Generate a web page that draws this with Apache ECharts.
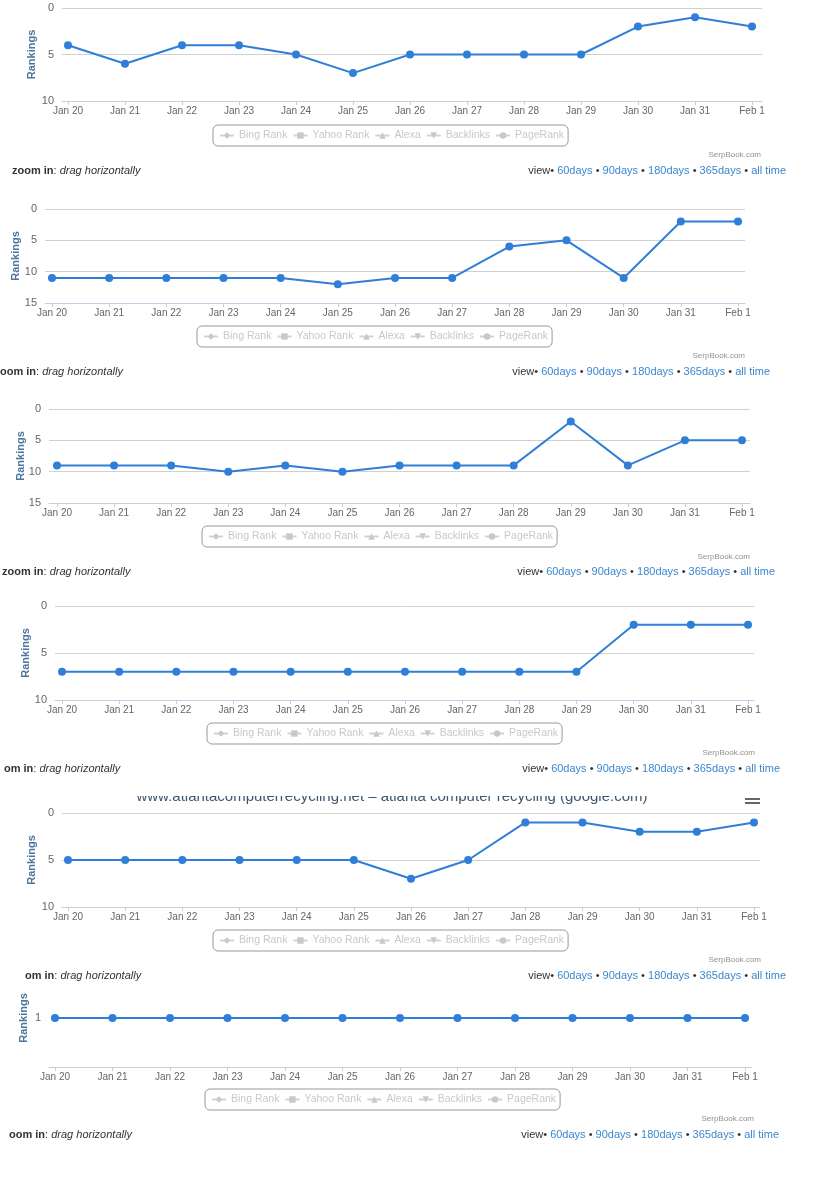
<!DOCTYPE html>
<html>
<head>
<meta charset="utf-8">
<script src="https://cdn.jsdelivr.net/npm/echarts@6/dist/echarts.min.js"></script>
<style>
html,body{margin:0;padding:0;background:#fff;}
#wrap{position:relative;width:816px;height:1200px;overflow:hidden;font-family:"Liberation Sans",Arial,sans-serif;}
#chart{position:absolute;left:0;top:0;width:816px;height:1200px;}
.t{position:absolute;white-space:nowrap;font-size:11px;line-height:14px;color:#333;}
.t b{font-weight:bold;}
.t i{font-style:italic;}
.t a{color:#3b87cf;text-decoration:none;}
.sb{position:absolute;white-space:nowrap;font-size:8px;line-height:10px;color:#909090;}
#titleclip{position:absolute;left:0;top:796px;width:816px;height:10px;overflow:hidden;}
#titleclip div{position:absolute;left:0;width:784px;top:-10px;text-align:center;font-size:15px;line-height:20px;color:#3E576F;white-space:nowrap;}
.bar{position:absolute;left:745px;width:15px;height:2px;background:#666;}
</style>
</head>
<body>
<div id="wrap">
<div id="chart"></div>
<div id="titleclip"><div>www.atlantacomputerrecycling.net – atlanta computer recycling (google.com)</div></div>
<div class="bar" style="top:798px"></div>
<div class="bar" style="top:802px"></div>
<div id="texts"></div>
</div>
<script>
// ---- data ----
const dates = ['Jan 20','Jan 21','Jan 22','Jan 23','Jan 24','Jan 25','Jan 26','Jan 27','Jan 28','Jan 29','Jan 30','Jan 31','Feb 1'];
const rank1 = [4,6,4,4,5,7,5,5,5,5,2,1,2];
const rank2 = [11,11,11,11,11,12,11,11,6,5,11,2,2];
const rank3 = [9,9,9,10,9,10,9,9,9,2,9,5,5];
const rank4 = [7,7,7,7,7,7,7,7,7,7,2,2,2];
const rank5 = [5,5,5,5,5,5,7,5,1,1,2,2,1];
const rank6 = [1,1,1,1,1,1,1,1,1,1,1,1,1];
const rankSets = [rank1, rank2, rank3, rank4, rank5, rank6];
const yMaxes = [10, 15, 15, 10, 10, 2];
const yTickStep = [5, 5, 5, 5, 5, 1];
const legendNames = ['Bing Rank','Yahoo Rank','Alexa','Backlinks','PageRank'];
const zoomTexts = ['zoom in','oom in','zoom in','om in','om in','oom in'];

// ---- layout (pixels) ----
const layout = [
  {gl:62, gr:762, p0:68, p12:752, top:8,   h:93, lgL:213, lgT:125, nameGap:25, sbR:761, sbY:155, zL:12, fY:170, vR:786},
  {gl:45, gr:745, p0:52, p12:738, top:209, h:94, lgL:197, lgT:326, nameGap:24, sbR:745, sbY:356, zL:0,  fY:371, vR:770},
  {gl:49, gr:750, p0:57, p12:742, top:409, h:94, lgL:202, lgT:526, nameGap:23, sbR:750, sbY:557, zL:2,  fY:571, vR:775},
  {gl:55, gr:754, p0:62, p12:748, top:606, h:94, lgL:207, lgT:723, nameGap:24, sbR:755, sbY:753, zL:4,  fY:768, vR:780},
  {gl:62, gr:760, p0:68, p12:754, top:813, h:94, lgL:213, lgT:930, nameGap:25, sbR:761, sbY:960, zL:25, fY:975, vR:786},
  {gl:49, gr:752, p0:55, p12:745, top:969, h:98, lgL:205, lgT:1089,nameGap:20, sbR:754, sbY:1119,zL:9,  fY:1134,vR:779}
];

const lineColor = '#2f7ed8';
const idx = dates.map((d,i)=>i);
const grids=[], xAxes=[], yAxes=[], series=[], legends=[];
const selected = {};
legendNames.forEach(n=>selected[n]=false);
const legendSymbols = ['diamond','rect','triangle','path://M0,0 L10,0 L5,10 Z','circle'];

layout.forEach((L,k)=>{
  const sp = (L.p12 - L.p0) / (dates.length-1);
  grids.push({left:L.gl, top:L.top, width:L.gr-L.gl, height:L.h});
  xAxes.push({
    type:'value', gridIndex:k, position:'bottom',
    min: -(L.p0-L.gl)/sp, max: (dates.length-1) + (L.gr-L.p12)/sp,
    splitLine:{show:false},
    axisLine:{show:true, onZero:false, lineStyle:{color:'#C0D0E0', width:1}},
    axisTick:{show:true, customValues:idx, length:4, lineStyle:{color:'#C0D0E0'}},
    axisLabel:{customValues:idx, formatter:v=>dates[Math.round(v)], color:'#666', fontSize:10, margin:5,
      fontFamily:'Liberation Sans, Arial, sans-serif'}
  });
  const last = k===5;
  yAxes.push({
    type:'value', gridIndex:k, inverse:true, min:0, max:yMaxes[k], interval:yTickStep[k],
    name:'Rankings', nameLocation:'middle', nameRotate:90, nameGap:L.nameGap, nameMoveOverlap:false,
    nameTextStyle:{color:'#4d759e', fontWeight:'bold', fontSize:11, fontFamily:'Liberation Sans, Arial, sans-serif'},
    axisLine:{show:false}, axisTick:{show:false},
    splitLine:{show:!last, lineStyle:{color:'#D0D0D0', width:1}},
    axisLabel:{color:'#666', fontSize:11, margin:8, fontFamily:'Liberation Sans, Arial, sans-serif',
      formatter: last ? (v=> v===1 ? '1' : '') : (v=>String(v))}
  });
  series.push({
    name:'Google', type:'line', xAxisIndex:k, yAxisIndex:k,
    data: rankSets[k].map((v,i)=>[i,v]),
    symbol:'circle', symbolSize:8, lineStyle:{color:lineColor, width:2},
    itemStyle:{color:lineColor}, animation:false, z:3
  });
  legends.push({
    data:legendNames.slice(), left:L.lgL, top:L.lgT, orient:'horizontal',
    selected:selected, inactiveColor:'#c8c8c8',
    itemWidth:14, itemHeight:8, itemGap:5, padding:[5,4,5,6],
    borderColor:'#999', borderWidth:1, borderRadius:5,
    textStyle:{fontSize:10.5, fontFamily:'Liberation Sans, Arial, sans-serif'},
    selectedMode:false
  });
});
legendNames.forEach((n,j)=>{
  series.push({name:n, type:'line', xAxisIndex:0, yAxisIndex:0, data:[], symbol:legendSymbols[j], symbolSize:7});
});

const chart = echarts.init(document.getElementById('chart'), null, {renderer:'canvas'});
chart.setOption({animation:false, grid:grids, xAxis:xAxes, yAxis:yAxes, series:series, legend:legends});

// ---- footer texts ----
const tx = document.getElementById('texts');
layout.forEach((L,k)=>{
  const sb = document.createElement('div');
  sb.className='sb'; sb.style.right=(816-L.sbR)+'px'; sb.style.top=(L.sbY-5)+'px';
  sb.textContent='SerpBook.com'; tx.appendChild(sb);
  const z = document.createElement('div');
  z.className='t'; z.style.left=L.zL+'px'; z.style.top=(L.fY-7)+'px';
  z.innerHTML='<b>'+zoomTexts[k]+'</b>: <i>drag horizontally</i>'; tx.appendChild(z);
  const v = document.createElement('div');
  v.className='t'; v.style.right=(816-L.vR)+'px'; v.style.top=(L.fY-7)+'px';
  v.innerHTML='view• <a>60days</a> • <a>90days</a> • <a>180days</a> • <a>365days</a> • <a>all time</a>';
  tx.appendChild(v);
});
</script>
</body>
</html>
